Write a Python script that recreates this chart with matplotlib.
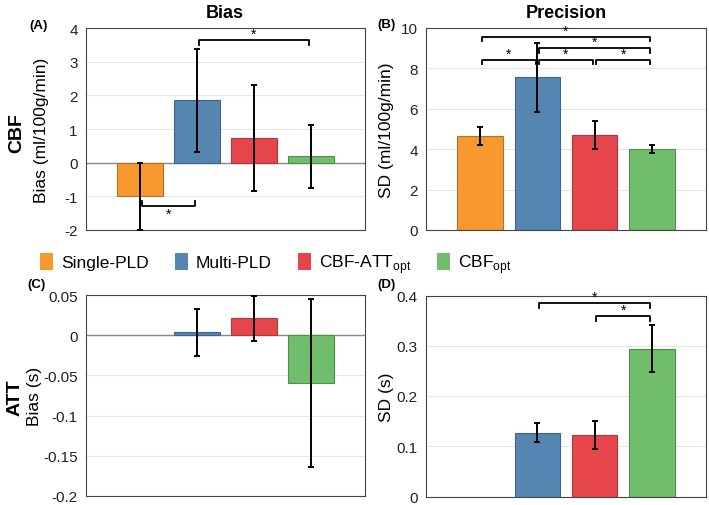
import numpy as np
import matplotlib
matplotlib.use("Agg")
import matplotlib.pyplot as plt
from matplotlib.patches import Patch
from matplotlib.ticker import FuncFormatter

plt.rcParams['font.family'] = ['Liberation Sans', 'DejaVu Sans']
plt.rcParams['mathtext.fontset'] = 'custom'
plt.rcParams['mathtext.rm'] = 'Liberation Sans'

methods = ['Single-PLD', 'Multi-PLD', 'CBF-ATT$_{\\mathrm{opt}}$', 'CBF$_{\\mathrm{opt}}$']
colors = ['#F8992F', '#5586B1', '#E6464B', '#70BD6B']
edges = ['#b0732e', '#3d6588', '#a83a3d', '#4f8f4c']

# CBF bias (ml/100g/min)
cbf_bias = [-1.0, 1.86, 0.73, 0.19]
cbf_bias_err = [1.0, 1.53, 1.58, 0.94]
# CBF precision SD (ml/100g/min)
cbf_sd = [4.65, 7.56, 4.70, 4.01]
cbf_sd_err = [0.45, 1.70, 0.69, 0.21]
# ATT bias (s), single-PLD gives no ATT
att_bias = [np.nan, 0.0035, 0.021, -0.0595]
att_bias_err = [np.nan, 0.029, 0.028, 0.104]
# ATT precision SD (s)
att_sd = [np.nan, 0.127, 0.122, 0.294]
att_sd_err = [np.nan, 0.019, 0.028, 0.047]

# significance brackets: (from bar, to bar, height)
sig_a = [(1, 3, 3.64)]
sig_a_low = [(0, 1, -1.29)]
sig_b = [(0, 3, 9.57), (1, 3, 9.0), (0, 1, 8.42), (1, 2, 8.42), (2, 3, 8.42)]
sig_d = [(1, 3, 0.385), (2, 3, 0.36)]

W, H = 709, 506
fig = plt.figure(figsize=(W / 100, H / 100), dpi=100)


def px_axes(l, t, r, b):
    return fig.add_axes([l / W, 1 - b / H, (r - l) / W, (b - t) / H])


ax_a = px_axes(86, 29, 365, 231)
ax_b = px_axes(426, 29, 706, 231)
ax_c = px_axes(86, 296, 365, 497)
ax_d = px_axes(426, 296.5, 706, 497.5)

x = np.arange(4)
fmt = FuncFormatter(lambda v, p: '{:g}'.format(round(v, 3) + 0.0))


def draw(ax, vals, errs, ylim, step, zero_line=False):
    vals = np.array(vals, dtype=float)
    errs = np.array(errs, dtype=float)
    ok = ~np.isnan(vals)
    ax.set_axisbelow(True)
    ax.yaxis.grid(True, color='#e6e6e6', lw=0.8)
    if zero_line:
        ax.axhline(0, color='#8a8a8a', lw=1.0, zorder=1)
    ax.bar(x[ok], vals[ok], width=0.8, color=np.array(colors)[ok],
           edgecolor=np.array(edges)[ok], lw=0.8, zorder=2)
    ax.errorbar(x[ok], vals[ok], yerr=errs[ok], fmt='none', ecolor='black',
                elinewidth=1.4, capsize=2.5, capthick=1.4, zorder=3)
    ax.set_xlim(-0.95, 3.95)
    ax.set_ylim(*ylim)
    ticks = np.round(np.arange(ylim[0], ylim[1] + step / 2, step), 3)
    ax.set_yticks(ticks)
    ax.yaxis.set_major_formatter(fmt)
    ax.set_xticks([])
    ax.tick_params(axis='y', length=0, labelsize=11, pad=6, labelcolor='#222222')
    for s in ax.spines.values():
        s.set_color('#444444')
        s.set_linewidth(0.8)


def brackets(ax, sigs, tick, down=True):
    for i, j, y in sigs:
        a, b = i + 0.03, j - 0.03
        yt = y - tick if down else y + tick
        ax.plot([a, a, b, b], [yt, y, y, yt], color='black', lw=1.3, zorder=4)
        if down:
            ax.text((i + j) / 2, y - tick * 0.2, '*', ha='center', va='bottom', fontsize=10)
        else:
            ax.text((i + j) / 2, y - tick * 0.2, '*', ha='center', va='top', fontsize=10)


draw(ax_a, cbf_bias, cbf_bias_err, (-2, 4), 1, zero_line=True)
draw(ax_b, cbf_sd, cbf_sd_err, (0, 10), 2)
draw(ax_c, att_bias, att_bias_err, (-0.2, 0.05), 0.05, zero_line=True)
draw(ax_d, att_sd, att_sd_err, (0, 0.4), 0.1)

brackets(ax_a, sig_a, 0.14)
brackets(ax_a, sig_a_low, 0.14, down=False)
brackets(ax_b, sig_b, 0.22)
brackets(ax_d, sig_d, 0.01)

# column titles, panel letters, row labels
fig.text(225 / W, 1 - 13 / H, 'Bias', ha='center', va='center', fontsize=13, fontweight='bold')
fig.text(566 / W, 1 - 13 / H, 'Precision', ha='center', va='center', fontsize=13, fontweight='bold')
for lbl, px, py in [('(A)', 39, 26), ('(B)', 386, 25), ('(C)', 37, 285), ('(D)', 387, 285)]:
    fig.text(px / W, 1 - py / H, lbl, ha='center', va='center', fontsize=9.5, fontweight='bold')
fig.text(17 / W, 1 - 133 / H, 'CBF', rotation=90, ha='center', va='center',
         fontsize=14, fontweight='bold')
fig.text(15 / W, 1 - 398 / H, 'ATT', rotation=90, ha='center', va='center',
         fontsize=14, fontweight='bold')
fig.text(42 / W, 1 - 130 / H, 'Bias (ml/100g/min)', rotation=90, ha='center', va='center', fontsize=12.5)
fig.text(387 / W, 1 - 130 / H, 'SD (ml/100g/min)', rotation=90, ha='center', va='center', fontsize=12.5)
fig.text(34 / W, 1 - 396 / H, 'Bias (s)', rotation=90, ha='center', va='center', fontsize=12.5)
fig.text(387 / W, 1 - 397 / H, 'SD (s)', rotation=90, ha='center', va='center', fontsize=12.5)

handles = [Patch(facecolor=c, edgecolor='none') for c in colors]
fig.legend(handles, methods, loc='center', bbox_to_anchor=(276 / W, 1 - 265 / H),
           ncol=4, frameon=False, fontsize=12.5, handlelength=0.75, handleheight=1.2,
           handletextpad=0.45, columnspacing=1.5, borderpad=0)

fig.savefig('out.png', dpi=100)
